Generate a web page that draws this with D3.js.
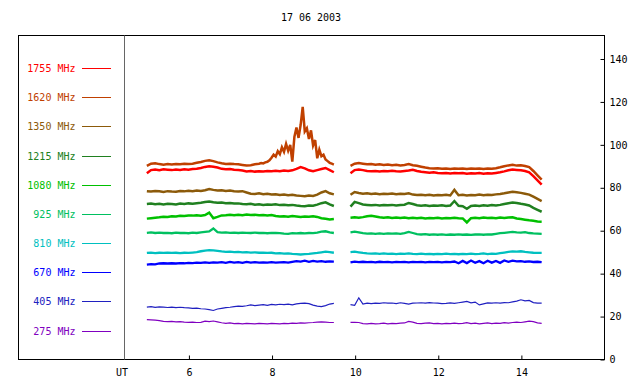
<!DOCTYPE html>
<html>
<head>
<meta charset="utf-8">
<script src="https://cdn.jsdelivr.net/npm/d3@7"></script>
<style>
  html, body { margin: 0; padding: 0; background: #fff; }
  svg { display: block; }
  text { font-family: "DejaVu Sans Mono", monospace; font-size: 10px; }
</style>
</head>
<body>
<svg id="chart" width="640" height="384"></svg>
<script>
// ---------------- DATA ----------------
const title = "17 06 2003";
const xTickValues = [6, 8, 10, 12, 14];
const yTickValues = [0, 20, 40, 60, 80, 100, 120, 140];

const frequencies = ["1755 MHz", "1620 MHz", "1350 MHz", "1215 MHz", "1080 MHz",
                     "925 MHz", "810 MHz", "670 MHz", "405 MHz", "275 MHz"];
const colors = ["#ff0000", "#c04000", "#8c5a0a", "#208020", "#00c000",
                "#00c060", "#00c0c0", "#0000ff", "#2020c0", "#8000c0"];

// Time grid (UT hours), first and second observing segments
const hoursA = [5.0,5.1,5.2,5.3,5.4,5.5,5.6,5.7,5.8,5.9,
                6.0,6.1,6.2,6.3,6.4,6.5,6.6,6.7,6.8,6.9,
                7.0,7.1,7.2,7.3,7.4,7.5,7.6,7.7,7.8,7.9,
                8.0,8.1,8.2,8.3,8.4,8.5,8.6,8.7,8.8,8.9,
                9.0,9.1,9.2,9.3,9.4,9.5];
const hoursB = [9.9,
                10.0,10.1,10.2,10.3,10.4,10.5,10.6,10.7,10.8,10.9,
                11.0,11.1,11.2,11.3,11.4,11.5,11.6,11.7,11.8,11.9,
                12.0,12.1,12.2,12.3,12.4,12.5,12.6,12.7,12.8,12.9,
                13.0,13.1,13.2,13.3,13.4,13.5,13.6,13.7,13.8,13.9,
                14.0,14.1,14.2,14.3,14.4,14.5];

const v1755A = [86.5,88.0,88.3,88.0,88.4,88.2,88.0,88.3,88.1,88.4,
                88.2,88.5,88.6,89.0,89.5,89.8,89.6,89.2,88.6,88.4,
                88.5,88.2,88.0,87.8,87.4,87.6,87.3,87.5,87.4,87.6,
                87.5,87.7,87.5,87.8,87.6,87.9,88.6,89.4,88.8,87.9,
                87.5,88.0,88.5,89.0,88.0,87.0];
const v1755B = [86.5,
                88.0,88.3,88.0,87.6,87.5,87.6,87.4,87.6,87.5,87.7,
                87.5,87.4,87.6,87.8,88.2,87.6,87.2,87.0,86.8,87.0,
                86.7,86.5,86.6,86.4,86.7,86.5,86.6,86.3,86.5,86.4,
                86.6,86.3,86.5,86.4,86.7,87.0,87.4,87.9,88.3,88.1,
                87.9,87.6,87.0,85.2,83.2,81.2];

// 1620 MHz: quiet part 5.0-7.6 on the grid, then the burst at finer resolution
const v1620A = [90.0,91.0,91.2,90.8,90.5,90.8,90.6,90.9,90.7,91.0,
                90.8,91.0,91.4,91.8,92.3,92.6,92.2,91.6,91.2,90.9,
                91.0,90.8,90.7,90.4,90.1,90.3,90.7];
const hours1620Burst = [7.7,7.75,7.8,7.85,7.9,7.95,
                8.0,8.05,8.1,8.15,8.2,8.25,8.3,8.35,8.4,8.45,
                8.5,8.55,8.6,8.65,8.7,8.75,8.8,8.85,8.9,8.95,
                9.0,9.05,9.1,9.15,9.2,9.25,9.3,9.35,9.4,9.45,9.5];
const v1620Burst = [91.0,91.3,91.1,91.6,91.9,92.6,
                93.8,95.2,94.3,96.8,95.4,98.6,96.5,100.2,97.0,99.8,
                92.0,103.5,107.8,103.0,109.0,117.5,106.0,107.5,102.5,106.5,
                99.5,102.0,93.5,97.5,94.5,95.2,93.0,92.2,91.4,91.0,90.6];
const v1620B = [90.0,
                91.0,91.3,91.0,90.7,90.8,90.5,90.7,90.4,90.6,90.3,
                90.5,90.2,90.4,90.8,90.3,90.0,89.6,89.2,88.9,88.7,
                88.9,88.6,88.8,88.5,88.7,88.6,88.8,88.5,88.7,88.6,
                88.8,88.5,88.7,88.6,88.9,89.3,89.8,90.2,90.5,90.1,
                90.3,89.9,89.4,87.6,85.6,83.6];

const v1350A = [78.2,78.0,78.3,78.1,77.8,78.2,78.0,77.9,78.3,78.1,
                78.4,78.2,78.5,78.3,78.6,79.2,78.8,78.5,78.6,78.3,
                78.5,78.2,78.0,78.2,77.6,77.0,76.9,77.2,76.8,77.0,
                76.6,76.8,76.4,76.6,76.3,76.5,76.2,76.0,75.8,76.2,
                76.0,76.6,77.6,78.2,77.2,76.7];
const v1350B = [76.5,
                77.8,77.3,77.0,77.2,76.9,77.1,76.8,77.0,76.9,77.1,
                76.8,77.0,76.9,77.2,76.6,76.4,76.5,76.3,76.5,76.2,
                76.4,76.3,76.5,76.2,78.8,76.3,76.5,76.2,76.4,76.3,
                76.6,76.3,76.5,76.4,76.7,76.9,77.2,77.6,77.9,77.7,
                77.4,77.0,76.6,75.6,74.6,73.6];

const v1215A = [72.2,72.4,72.1,72.3,72.0,72.3,72.2,72.0,72.4,72.2,
                72.5,72.3,72.6,72.8,73.1,73.4,73.0,72.8,72.9,72.6,
                72.7,72.4,72.5,72.2,72.1,72.3,71.9,72.1,71.8,72.0,
                71.9,72.1,71.7,71.9,71.6,71.8,71.5,71.3,71.2,71.5,
                71.4,71.9,72.6,73.0,72.0,71.3];
const v1215B = [71.0,
                73.2,72.6,72.0,71.8,71.6,71.8,71.5,71.7,71.6,71.8,
                71.5,71.7,71.9,72.7,72.2,71.6,71.4,71.6,71.3,71.5,
                71.4,71.6,71.3,71.5,73.6,71.4,71.2,70.0,71.3,71.5,
                71.3,71.6,71.4,71.7,71.5,71.8,72.2,72.6,72.9,72.7,
                72.3,72.0,71.5,70.4,69.5,68.6];

const v1080A = [65.4,65.6,65.8,66.0,66.3,66.2,66.5,66.4,66.7,66.6,
                66.9,66.8,67.0,66.8,67.1,68.2,65.6,66.2,66.9,67.0,
                67.2,67.0,67.2,67.0,67.3,67.1,67.2,67.0,67.1,66.9,
                67.1,66.6,66.4,66.5,66.3,66.6,66.4,66.2,66.4,66.3,
                66.5,66.2,65.6,65.3,65.0,65.2];
const v1080B = [65.8,
                66.0,65.8,66.1,66.5,66.7,66.4,66.0,65.8,66.0,65.7,
                65.9,65.7,65.9,65.6,65.8,65.6,65.8,65.5,65.7,65.6,
                65.8,65.5,65.7,65.6,65.8,65.6,65.5,63.6,65.6,65.8,
                65.6,65.9,65.7,65.8,65.6,65.9,65.7,65.9,66.0,65.5,
                65.2,64.9,64.6,64.4,64.1,64.0];

const v925A = [58.8,59.0,58.7,58.9,58.7,58.8,58.6,58.9,58.7,58.8,
               58.6,58.9,58.7,59.0,59.2,59.4,60.8,59.1,58.9,59.0,
               58.8,58.9,58.7,58.9,58.8,58.7,58.9,58.7,58.8,58.6,
               58.8,58.7,58.6,58.4,58.3,58.6,58.5,58.7,58.5,58.7,
               58.6,58.9,59.3,59.5,59.0,58.7];
const v925B = [59.0,
               59.3,59.0,58.6,58.4,58.5,58.3,58.5,58.3,58.5,58.4,
               58.5,58.3,58.6,59.2,58.7,58.2,58.0,58.2,57.9,58.1,
               57.9,58.1,57.8,58.0,57.9,58.1,57.9,58.0,57.8,58.0,
               58.1,57.9,58.1,58.0,58.3,58.6,58.8,59.0,59.2,59.0,
               58.9,59.1,58.7,58.5,58.4,58.3];

const v810A = [49.4,49.6,49.3,49.5,49.4,49.6,49.4,49.5,49.3,49.5,
               49.4,49.6,49.8,50.2,50.5,50.7,50.6,50.4,50.1,49.9,
               50.0,49.8,49.9,49.7,49.8,49.6,49.7,49.5,49.6,49.4,
               49.5,49.2,49.3,49.1,49.2,49.0,48.9,48.7,48.9,49.0,
               49.2,49.4,49.7,50.0,49.8,49.5];
const v810B = [49.8,
               50.0,49.7,49.4,49.2,49.1,49.2,49.0,49.2,49.0,49.1,
               48.9,49.1,49.0,49.2,49.0,48.9,49.1,48.9,49.0,48.8,
               49.0,48.9,49.1,48.9,49.0,48.8,49.0,48.9,49.1,48.9,
               49.0,49.2,48.9,49.1,49.0,49.3,49.6,49.9,50.1,50.0,
               50.2,49.9,49.7,49.5,49.4,49.4];

const v670A = [44.0,44.2,44.1,44.5,44.6,44.5,44.6,44.5,44.7,44.6,
               44.8,44.7,44.9,44.8,45.0,44.8,45.0,44.9,45.1,44.8,
               45.2,44.9,45.1,44.8,45.2,44.9,45.1,44.9,45.0,44.9,
               45.1,44.9,45.0,45.1,44.9,45.3,45.6,45.4,45.8,45.3,
               45.7,45.4,45.6,45.3,45.5,45.4];
const v670B = [45.0,
               45.4,45.1,45.3,45.1,45.2,45.0,45.3,45.1,45.2,45.0,
               45.2,45.1,45.2,45.0,45.2,45.1,45.2,45.0,45.2,45.1,
               45.2,45.0,45.2,45.1,45.4,44.6,45.7,44.7,45.9,44.8,
               45.6,44.6,45.8,44.9,45.7,44.8,45.9,45.3,45.8,45.5,
               45.6,45.3,45.5,45.2,45.3,45.1];

const v405A = [24.2,24.4,24.1,24.3,24.2,24.0,24.2,23.9,24.1,23.9,
               23.8,23.6,23.7,23.4,23.3,23.0,22.6,23.3,23.6,23.9,
               24.1,24.4,24.6,24.5,24.8,25.2,24.9,25.1,25.3,25.0,
               25.4,25.2,25.5,25.3,25.6,25.2,25.7,25.9,26.0,25.8,
               25.1,24.6,24.4,24.9,25.6,25.9];
const v405B = [25.3,
               25.0,28.5,25.6,26.0,25.8,26.0,25.9,26.2,26.0,26.1,
               25.8,26.2,25.9,25.6,26.0,26.1,26.2,26.0,26.3,26.1,
               26.0,25.8,25.9,26.1,25.9,26.2,26.5,26.8,26.2,26.5,
               25.2,25.7,26.1,26.0,26.2,26.0,26.3,26.2,26.6,27.0,
               27.6,27.1,27.3,26.3,26.0,26.0];

const v275A = [18.3,18.2,18.1,17.9,17.5,17.4,17.5,17.3,17.4,17.2,
               17.1,17.2,17.0,17.1,17.6,17.4,17.7,17.3,16.9,16.6,
               16.8,16.5,16.6,16.4,16.6,16.5,16.4,16.6,16.5,16.4,
               16.6,16.5,16.4,16.6,16.5,16.7,16.6,16.8,16.7,16.9,
               17.0,17.2,17.3,17.2,17.0,17.0];
const v275B = [17.1,
               17.1,17.0,16.5,16.4,16.6,16.4,16.5,16.7,16.4,16.6,
               16.5,16.7,16.8,17.5,17.2,16.6,16.5,16.7,16.8,16.5,
               16.6,16.4,16.6,16.5,16.7,16.5,16.6,16.9,16.5,16.7,
               16.4,16.6,16.8,16.5,16.7,16.6,16.9,16.7,17.0,17.2,
               17.0,17.3,17.6,17.4,16.8,16.6];

// ---------------- BUILD SERIES ----------------
const zip = (hs, vs) => hs.map((h, i) => ({h, v: vs[i]}));
const seriesSegments = [
  [zip(hoursA, v1755A), zip(hoursB, v1755B)],
  [zip(hoursA.slice(0, v1620A.length), v1620A).concat(zip(hours1620Burst, v1620Burst)), zip(hoursB, v1620B)],
  [zip(hoursA, v1350A), zip(hoursB, v1350B)],
  [zip(hoursA, v1215A), zip(hoursB, v1215B)],
  [zip(hoursA, v1080A), zip(hoursB, v1080B)],
  [zip(hoursA, v925A), zip(hoursB, v925B)],
  [zip(hoursA, v810A), zip(hoursB, v810B)],
  [zip(hoursA, v670A), zip(hoursB, v670B)],
  [zip(hoursA, v405A), zip(hoursB, v405B)],
  [zip(hoursA, v275A), zip(hoursB, v275B)]
];
const lineWidths = [2.5, 2.5, 2.5, 2.5, 2.5, 2.3, 2.3, 2.3, 1.2, 1.2];

// ---------------- LAYOUT ----------------
const svg = d3.select("#chart");
const box = {left: 18.5, right: 604.5, top: 35.5, bottom: 359.5};
const plotLeft = 124;

const x = d3.scaleLinear().domain([4.45, 16]).range([plotLeft, 604]);
const y = d3.scaleLinear().domain([0, 140]).range([359, 58.5]);

// title
svg.append("text").attr("x", 311).attr("y", 17).attr("dy", "0.35em")
   .attr("text-anchor", "middle").attr("fill", "#000").text(title);

// outer frame
svg.append("rect").attr("x", box.left).attr("y", box.top)
   .attr("width", box.right - box.left).attr("height", box.bottom - box.top)
   .attr("fill", "none").attr("stroke", "#000").attr("stroke-width", 1);

// separator between legend and plot
svg.append("line").attr("x1", plotLeft + 0.5).attr("x2", plotLeft + 0.5)
   .attr("y1", box.top).attr("y2", box.bottom)
   .attr("stroke", "#666").attr("stroke-width", 1);

// right y axis
const yAxis = d3.axisRight(y).tickValues(yTickValues).tickSizeInner(-4).tickSizeOuter(0).tickPadding(5);
const gy = svg.append("g").attr("transform", `translate(${box.right},0.5)`).call(yAxis);
gy.select(".domain").remove();
gy.selectAll("text").attr("font-family", "DejaVu Sans Mono").attr("font-size", 10).attr("fill", "#000");

// bottom x axis
const xAxis = d3.axisBottom(x).tickValues(xTickValues).tickSizeInner(-4).tickSizeOuter(0).tickPadding(9).tickFormat(d3.format("d"));
const gx = svg.append("g").attr("transform", `translate(0.5,${box.bottom})`).call(xAxis);
gx.select(".domain").remove();
gx.selectAll("text").attr("font-family", "DejaVu Sans Mono").attr("font-size", 10).attr("fill", "#000");

svg.append("text").attr("x", 122).attr("y", 372).attr("dy", "0.35em")
   .attr("text-anchor", "middle").attr("fill", "#000").text("UT");

// series
const line = d3.line().x(d => x(d.h)).y(d => y(d.v)).curve(d3.curveLinear);
const order = d3.range(frequencies.length).reverse();
order.forEach(i => {
  seriesSegments[i].forEach(seg => {
    svg.append("path").datum(seg).attr("d", line)
       .attr("fill", "none").attr("stroke", colors[i])
       .attr("stroke-width", lineWidths[i]).attr("stroke-linejoin", "miter");
  });
});

// legend
const legendY = d3.scaleLinear().domain([0, frequencies.length - 1]).range([68, 330.5]);
frequencies.forEach((f, i) => {
  const ly = Math.round(legendY(i));
  svg.append("text").attr("x", 75.5).attr("y", ly).attr("dy", "0.35em")
     .attr("text-anchor", "end").attr("fill", colors[i]).text(f);
  svg.append("line").attr("x1", 82).attr("x2", 111).attr("y1", ly + 0.5).attr("y2", ly + 0.5)
     .attr("stroke", colors[i]).attr("stroke-width", 1);
});
</script>
</body>
</html>
